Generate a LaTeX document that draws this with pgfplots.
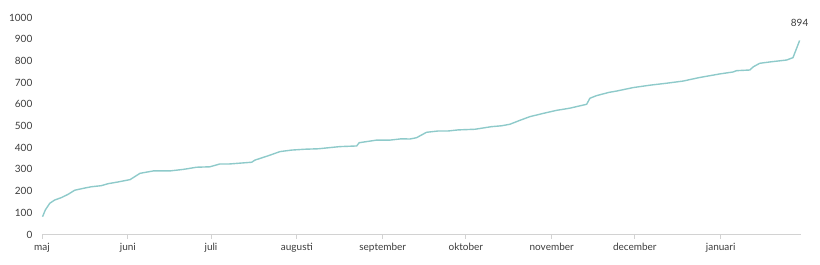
\documentclass[border=0pt]{standalone}
\usepackage{fontspec}
\setmainfont{Lato}
\usepackage{pgfplots}
\pgfplotsset{compat=1.18}
\definecolor{linec}{RGB}{142,202,202}
\definecolor{txt}{RGB}{60,60,60}
\definecolor{axc}{RGB}{210,210,210}
\begin{document}
\begin{tikzpicture}[x=1bp,y=1bp]
\path[use as bounding box] (0,0) rectangle (820,264);
\begin{axis}[
  at={(42bp,29.5bp)}, anchor=south west,
  scale only axis, width=759bp, height=217bp,
  xmin=0, xmax=274, ymin=0, ymax=1000,
  axis x line*=bottom, axis y line*=left,
  axis line style={-},
  x axis line style={draw=axc, line width=1pt},
  y axis line style={draw=none},
  ytick={0,100,...,1000},
  xtick={0,31,61,92,123,153,184,214,245},
  xticklabels={maj,juni,juli,augusti,september,oktober,november,december,januari},
  tick align=outside, major tick length=4bp,
  xtick style={draw=axc, line width=0.8pt},
  ytick style={draw=none},
  tick label style={font=\fontsize{10bp}{12bp}\selectfont, text=txt},
  /pgf/number format/assume math mode=true,
  /pgf/number format/1000 sep={},
  yticklabel style={inner sep=0pt, xshift=-5.5bp},
  xticklabel style={inner sep=0pt, anchor=base, yshift=-11.5bp},
  clip=false,
]
\addplot[linec, line width=1.4pt, line join=round] coordinates {
(0.2,82) (1.2,113) (2.8,144) (4.6,159) (7.0,170) (9.4,185) (11.8,204)
(15.4,214) (17.8,220) (21.4,225) (23.8,234) (27.4,242) (29.8,248)
(31.8,253) (35.4,282) (40.2,293) (46.2,293) (51.0,300) (55.8,310)
(60.6,312) (64.2,325) (67.6,325) (75.7,333) (76.9,343) (81.7,363)
(85.9,382) (90.1,389) (94.9,393) (99.7,395) (107.5,405) (113.6,408)
(114.5,423) (120.8,435) (125.6,435) (129.8,441) (132.8,440) (135.2,446)
(138.8,471) (143.0,477) (146.6,477) (150.2,482) (156.3,485) (162.3,497)
(165.9,501) (168.9,508) (172.5,526) (176.1,543) (180.9,558) (185.7,572)
(190.5,582) (196.6,600) (197.8,628) (200.2,640) (204.7,655) (207.4,661)
(213.4,677) (219.4,688) (225.4,697) (231.4,707) (237.2,723) (244.7,740)
(249.5,749) (250.7,755) (255.5,758) (256.8,773) (259.1,789) (263.3,796)
(268.8,804) (271.1,815) (273.5,894)
};
\node[anchor=base, text=txt, font=\fontsize{10bp}{12bp}\selectfont, inner sep=0pt] at (axis cs:273.5,894) [yshift=14bp] {894};
\end{axis}
\end{tikzpicture}
\end{document}
